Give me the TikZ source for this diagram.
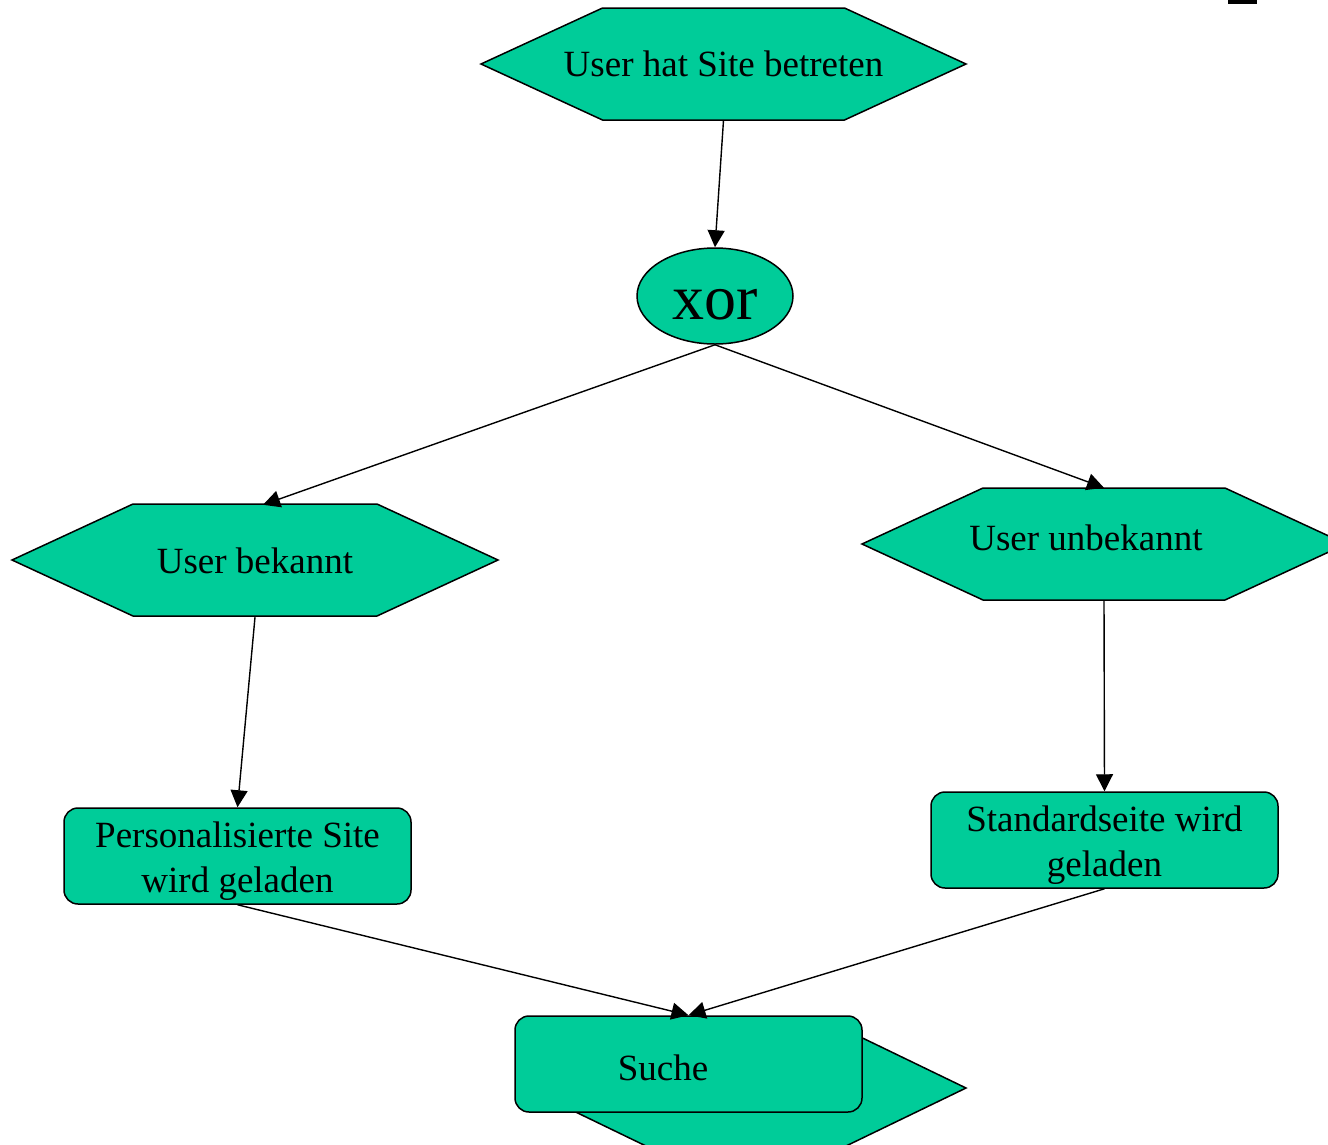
\documentclass[tikz,border=0pt]{standalone}
\usepackage{fontspec}
\setmainfont{Liberation Serif}
\usetikzlibrary{arrows.meta,shapes.geometric}
\definecolor{fillgreen}{RGB}{0,204,153}
\newcommand{\hexshape}[4]{% center x, center y, half width, inner half width
  \draw[shapeline] ({#1-#3},#2) -- ({#1-#4},{#2-56}) -- ({#1+#4},{#2-56}) -- ({#1+#3},#2) -- ({#1+#4},{#2+56}) -- ({#1-#4},{#2+56}) -- cycle;}
\begin{document}
\begin{tikzpicture}[x=1pt,y=-1pt,
  shapeline/.style={draw=black,line width=1.5pt,fill=fillgreen},
  hexbox/.style={inner sep=0pt,minimum width=485pt,minimum height=112pt,align=center,font=\fontsize{37}{45}\selectfont},
  roundbox/.style={shapeline,rounded corners=14pt,minimum width=347pt,minimum height=96pt,inner sep=0pt},
  txt/.style={inner sep=0pt,align=center,font=\fontsize{37}{45}\selectfont},
  conn/.style={line width=1.4pt,-{Triangle[length=17pt,width=17pt]}}]
\useasboundingbox (0,0) rectangle (1328,1144);
\clip (0,0) rectangle (1328,1144);
% fragment of a glyph at the top right
\fill (1228,0) rectangle (1257,3.5);
% shapes
\hexshape{723.5}{64}{242.5}{121}
\node[hexbox] (start) at (723.5,64) {User hat Site betreten};
\node[shapeline,ellipse,minimum width=156pt,minimum height=96pt,inner sep=0pt] (xor) at (715,296) {};
\node[inner sep=0pt,font=\fontsize{64}{70}\selectfont] (xortext) at (715,305) {xor};
\hexshape{255}{560}{243}{122}
\node[hexbox] (known) at (255,561) {User bekannt};
\hexshape{1104}{544}{242}{121}
\node[hexbox] (unknown) at (1104,544) {};
\node[txt] (unknowntext) at (1086,538) {User unbekannt};
\node[roundbox] (pers) at (237.5,856) {};
\node[txt] (perstext) at (237.5,861) {Personalisierte Site\\wird geladen};
\node[roundbox] (std) at (1104.5,840) {};
\node[txt] (stdtext) at (1104.5,845) {Standardseite wird\\geladen};
% Suche with hexagon behind it
\draw[shapeline] (526,1088) -- (646,1030) -- (846,1030) -- (966,1088) -- (846,1146) -- (646,1146) -- cycle;
\node[roundbox] (suche) at (688.5,1064) {};
\node[txt] (suchetext) at (663,1068) {Suche};
% connectors
\draw[conn] (start.south) -- (xor.north);
\draw[conn] (xor.south) -- ([xshift=8pt]known.north);
\draw[conn] (xor.south) -- (unknown.north);
\draw[conn] (known.south) -- (pers.north);
\draw[conn] (unknown.south) -- (std.north);
\draw[conn] (pers.south) -- (suche.north);
\draw[conn] (std.south) -- (suche.north);
\end{tikzpicture}
\end{document}
